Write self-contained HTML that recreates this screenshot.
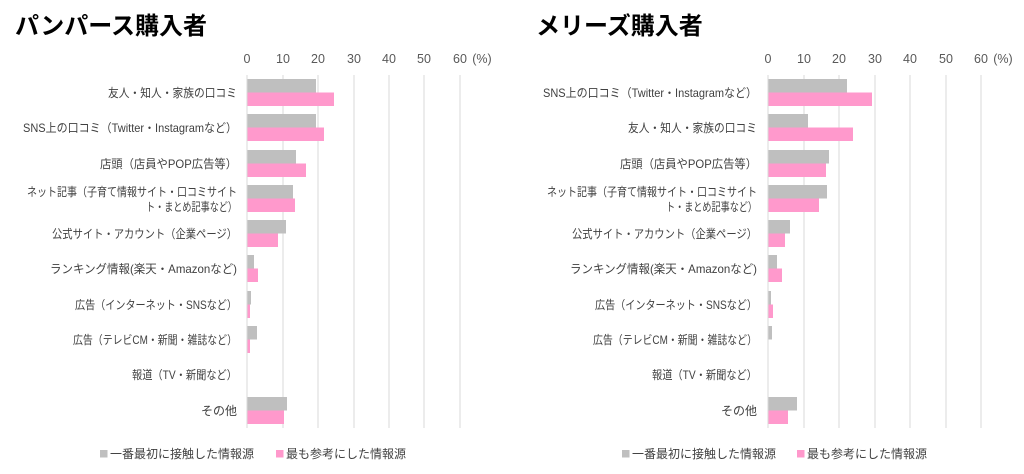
<!DOCTYPE html>
<html><head><meta charset="utf-8"><style>
body{margin:0;background:#fff;}
svg{display:block;font-family:"Liberation Sans","Noto Sans CJK JP",sans-serif;}
.t{font-size:24px;font-weight:bold;fill:#000;}
.l{font-size:12px;fill:#404040;}
.k{font-size:12.5px;fill:#595959;}
</style></head><body>
<svg width="1024" height="474" viewBox="0 0 1024 474">
<text class="t" x="15" y="34">パンパース購入者</text>
<text class="t" x="536" y="34">メリーズ購入者</text>
<g id="L">
<g stroke="#d9d9d9" stroke-width="1">
<line x1="283" y1="75" x2="283" y2="428"/><line x1="318" y1="75" x2="318" y2="428"/><line x1="354" y1="75" x2="354" y2="428"/><line x1="389" y1="75" x2="389" y2="428"/><line x1="424" y1="75" x2="424" y2="428"/><line x1="460" y1="75" x2="460" y2="428"/>
</g>
<g class="k" text-anchor="middle">
<text x="247" y="63">0</text><text x="283" y="63">10</text><text x="318" y="63">20</text><text x="354" y="63">30</text><text x="389" y="63">40</text><text x="424" y="63">50</text><text x="460" y="63">60</text><text x="482" y="63">(%)</text>
</g>
<g fill="#bfbfbf">
<rect x="247" y="79" width="69" height="13.5"/><rect x="247" y="114" width="69" height="13.5"/><rect x="247" y="150" width="49" height="13.5"/><rect x="247" y="185" width="46" height="13.5"/><rect x="247" y="220" width="39" height="13.5"/><rect x="247" y="255" width="7" height="13.5"/><rect x="247" y="291" width="4" height="13.5"/><rect x="247" y="326" width="10" height="13.5"/><rect x="247" y="397" width="40" height="13.5"/>
</g>
<g fill="#ff99cc">
<rect x="247" y="92.5" width="87" height="13.5"/><rect x="247" y="127.5" width="77" height="13.5"/><rect x="247" y="163.5" width="59" height="13.5"/><rect x="247" y="198.5" width="48" height="13.5"/><rect x="247" y="233.5" width="31" height="13.5"/><rect x="247" y="268.5" width="11" height="13.5"/><rect x="247" y="304.5" width="3" height="13.5"/><rect x="247" y="339.5" width="3" height="13.5"/><rect x="247" y="410.5" width="37" height="13.5"/>
</g>
<line x1="247" y1="75" x2="247" y2="428" stroke="#d9d9d9"/>
<g class="l" text-anchor="end">
<text x="237" y="97" textLength="129" lengthAdjust="spacingAndGlyphs">友人・知人・家族の口コミ</text>
<text x="237" y="132" textLength="214" lengthAdjust="spacingAndGlyphs">SNS上の口コミ（Twitter・Instagramなど）</text>
<text x="237" y="168" textLength="137" lengthAdjust="spacingAndGlyphs">店頭（店員やPOP広告等）</text>
<text x="237" y="196" textLength="210" lengthAdjust="spacingAndGlyphs">ネット記事（子育て情報サイト・口コミサイト</text>
<text x="237" y="211" textLength="91" lengthAdjust="spacingAndGlyphs">ト・まとめ記事など）</text>
<text x="237" y="238" textLength="185" lengthAdjust="spacingAndGlyphs">公式サイト・アカウント（企業ページ）</text>
<text x="237" y="273" textLength="187" lengthAdjust="spacingAndGlyphs">ランキング情報(楽天・Amazonなど)</text>
<text x="237" y="309" textLength="162" lengthAdjust="spacingAndGlyphs">広告（インターネット・SNSなど）</text>
<text x="237" y="344" textLength="164" lengthAdjust="spacingAndGlyphs">広告（テレビCM・新聞・雑誌など）</text>
<text x="237" y="379" textLength="105" lengthAdjust="spacingAndGlyphs">報道（TV・新聞など）</text>
<text x="237" y="415" textLength="36" lengthAdjust="spacingAndGlyphs">その他</text>
</g>
<rect x="100" y="450" width="7.5" height="7.5" fill="#bfbfbf"/>
<text class="l" x="110" y="458">一番最初に接触した情報源</text>
<rect x="276" y="450" width="7.5" height="7.5" fill="#ff99cc"/>
<text class="l" x="286" y="458">最も参考にした情報源</text>
</g>
<g id="R">
<g stroke="#d9d9d9" stroke-width="1">
<line x1="804" y1="75" x2="804" y2="428"/><line x1="839" y1="75" x2="839" y2="428"/><line x1="875" y1="75" x2="875" y2="428"/><line x1="910" y1="75" x2="910" y2="428"/><line x1="946" y1="75" x2="946" y2="428"/><line x1="981" y1="75" x2="981" y2="428"/>
</g>
<g class="k" text-anchor="middle">
<text x="768" y="63">0</text><text x="804" y="63">10</text><text x="839" y="63">20</text><text x="875" y="63">30</text><text x="910" y="63">40</text><text x="946" y="63">50</text><text x="981" y="63">60</text><text x="1003" y="63">(%)</text>
</g>
<g fill="#bfbfbf">
<rect x="768" y="79" width="79" height="13.5"/><rect x="768" y="114" width="40" height="13.5"/><rect x="768" y="150" width="61" height="13.5"/><rect x="768" y="185" width="59" height="13.5"/><rect x="768" y="220" width="22" height="13.5"/><rect x="768" y="255" width="9" height="13.5"/><rect x="768" y="291" width="3" height="13.5"/><rect x="768" y="326" width="4" height="13.5"/><rect x="768" y="397" width="29" height="13.5"/>
</g>
<g fill="#ff99cc">
<rect x="768" y="92.5" width="104" height="13.5"/><rect x="768" y="127.5" width="85" height="13.5"/><rect x="768" y="163.5" width="58" height="13.5"/><rect x="768" y="198.5" width="51" height="13.5"/><rect x="768" y="233.5" width="17" height="13.5"/><rect x="768" y="268.5" width="14" height="13.5"/><rect x="768" y="304.5" width="5" height="13.5"/><rect x="768" y="410.5" width="20" height="13.5"/>
</g>
<line x1="768" y1="75" x2="768" y2="428" stroke="#d9d9d9"/>
<g class="l" text-anchor="end">
<text x="757" y="97" textLength="214" lengthAdjust="spacingAndGlyphs">SNS上の口コミ（Twitter・Instagramなど）</text>
<text x="757" y="132" textLength="129" lengthAdjust="spacingAndGlyphs">友人・知人・家族の口コミ</text>
<text x="757" y="168" textLength="137" lengthAdjust="spacingAndGlyphs">店頭（店員やPOP広告等）</text>
<text x="757" y="196" textLength="210" lengthAdjust="spacingAndGlyphs">ネット記事（子育て情報サイト・口コミサイト</text>
<text x="757" y="211" textLength="91" lengthAdjust="spacingAndGlyphs">ト・まとめ記事など）</text>
<text x="757" y="238" textLength="185" lengthAdjust="spacingAndGlyphs">公式サイト・アカウント（企業ページ）</text>
<text x="757" y="273" textLength="187" lengthAdjust="spacingAndGlyphs">ランキング情報(楽天・Amazonなど)</text>
<text x="757" y="309" textLength="162" lengthAdjust="spacingAndGlyphs">広告（インターネット・SNSなど）</text>
<text x="757" y="344" textLength="164" lengthAdjust="spacingAndGlyphs">広告（テレビCM・新聞・雑誌など）</text>
<text x="757" y="379" textLength="105" lengthAdjust="spacingAndGlyphs">報道（TV・新聞など）</text>
<text x="757" y="415" textLength="36" lengthAdjust="spacingAndGlyphs">その他</text>
</g>
<rect x="622" y="450" width="7.5" height="7.5" fill="#bfbfbf"/>
<text class="l" x="632" y="458">一番最初に接触した情報源</text>
<rect x="797" y="450" width="7.5" height="7.5" fill="#ff99cc"/>
<text class="l" x="807" y="458">最も参考にした情報源</text>
</g>
</svg>
</body></html>
